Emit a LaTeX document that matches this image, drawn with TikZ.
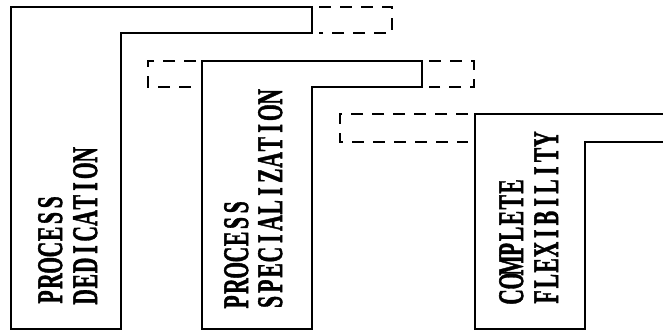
\documentclass[tikz,border=0pt]{standalone}
\usepackage{fontspec}
\newfontfamily\lblfont[FakeBold=1.5]{Liberation Serif}
\makeatletter
\def\monotxt#1{\monotxt@i#1\relax}
\def\monotxt@i#1{\ifx#1\relax\else\makebox[26.3pt]{#1}\expandafter\monotxt@i\fi}
\makeatother
\newcommand\lbltext[1]{\scalebox{0.6}[1]{\monotxt{#1}}}
\begin{document}
\begin{tikzpicture}[x=1pt,y=-1pt,
  solidline/.style={line width=1.3pt,line join=miter},
  dashline/.style={line width=1.3pt,dash pattern=on 12pt off 9pt},
  lbl/.style={rotate=90,anchor=base west,inner sep=0pt,font=\lblfont\bfseries\fontsize{36}{36}\selectfont}]
\useasboundingbox (0,0) rectangle (663,333);
% shape 1
\draw[solidline] (11,7) -- (312,7) -- (312,33) -- (121,33) -- (121,329) -- (11,329) -- cycle;
\draw[dashline] (319,7) -- (392,7) -- (392,33) -- (319,33);
% shape 2
\draw[solidline] (202,61) -- (422,61) -- (422,87) -- (312,87) -- (312,329) -- (202,329) -- cycle;
\draw[dashline] (196,61) -- (148,61) -- (148,87) -- (196,87);
\draw[dashline] (429,61) -- (474,61) -- (474,87) -- (429,87);
% shape 3
\draw[solidline] (663,114) -- (475,114) -- (475,329) -- (585,329) -- (585,142) -- (663,142);
\draw[dashline] (468,114) -- (340,114) -- (340,142) -- (468,142);
% labels
\node[lbl] (p1) at (62,305) {\lbltext{PROCESS}};
\node[lbl] (d1) at (97,305) {\lbltext{DEDICATION}};
\node[lbl] (p2) at (248,310) {\lbltext{PROCESS}};
\node[lbl] (s2) at (282,310) {\lbltext{SPECIALIZATION}};
\node[lbl] (c3) at (523,305) {\lbltext{COMPLETE}};
\node[lbl] (f3) at (558,305) {\lbltext{FLEXIBILITY}};
\end{tikzpicture}
\end{document}
